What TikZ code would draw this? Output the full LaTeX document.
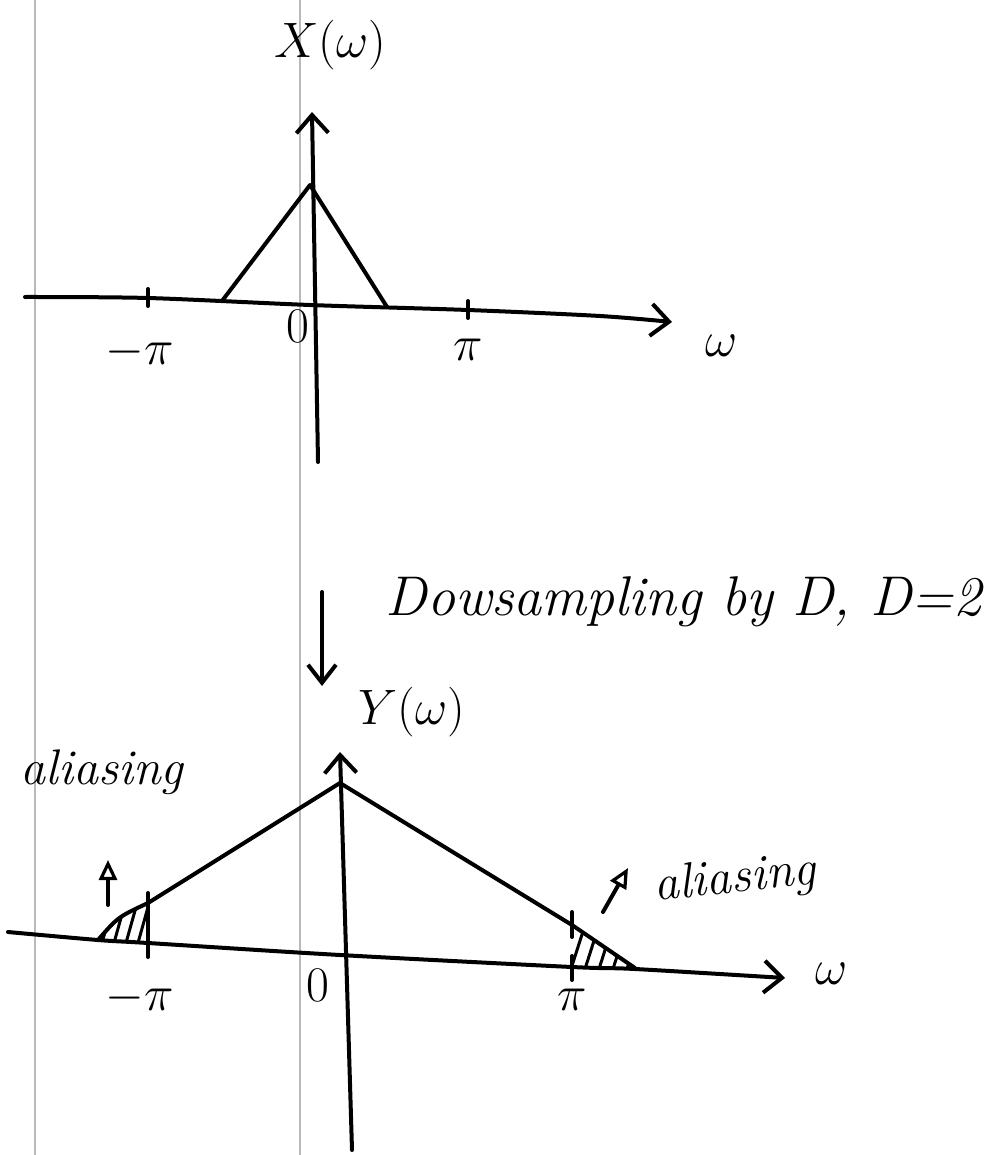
\documentclass[tikz,border=0pt]{standalone}
\usepackage{tikz}
\usetikzlibrary{arrows.meta}

\tikzset{
  pen/.style={line width=2pt,line cap=round,line join=round},
  axisarrow/.style={pen,-{Straight Barb[length=9pt,width=16pt,line width=2pt]}},
  markarrow/.style={pen,-{Triangle[open,length=10pt,width=9pt,line width=1.6pt]}},
  hatchline/.style={line width=1.5pt},
  lbl/.style={inner sep=0pt,font=\fontsize{24}{28}\selectfont},
  biglbl/.style={inner sep=0pt,font=\fontsize{34}{40}\selectfont},
  txt/.style={inner sep=0pt,font=\fontsize{25}{29}\selectfont\itshape},
}

\begin{document}
\begin{tikzpicture}[x=0.5pt,y=-0.5pt]
  \useasboundingbox (0,0) rectangle (993,1155);
  % scan margins
  \draw[gray!55,line width=0.6pt] (35,0)--(35,1155);
  \draw[gray!55,line width=0.6pt] (300,0)--(300,1155);

  % upper spectrum X(w)
  \coordinate (xo) at (318,462);
  \coordinate (xt) at (312,112);
  \draw[axisarrow] plot[smooth] coordinates {(25,297) (148,298) (310,305) (468,310) (600,316) (672,322)};
  \draw[axisarrow] (xo)--(xt);
  \draw[pen] (148,289)--(148,306);
  \draw[pen] (468,301)--(468,318);
  \draw[pen] (222,301)--(310,185)--(387,307);
  \node[biglbl] (xlab) at (330,45) {$X(\omega)$};
  \node[lbl] (xmpi) at (140,352) {$-\pi$};
  \node[lbl] (xzero) at (298,326) {$0$};
  \node[lbl] (xpi) at (468,350) {$\pi$};
  \node[biglbl] (xw) at (722,346) {$\omega$};

  % downsampling step
  \coordinate (da) at (322,592);
  \coordinate (db) at (322,686);
  \draw[pen,-{Straight Barb[length=9pt,width=14pt,line width=2pt]}] (da)--(db);
  \node[anchor=east,inner sep=0pt,font=\fontsize{28}{32}\selectfont\itshape] (step) at (982,602) {Dowsampling by D, D=2};

  % lower spectrum Y(w)
  \coordinate (yo) at (352,1150);
  \coordinate (yt) at (340,752);
  \begin{scope}
    \clip (98,940) .. controls (118,917) .. (148,903) -- (148,943) -- cycle;
    \foreach \x in {100,112,124,136,148}
      \draw[hatchline] (\x,950)--++(14,-50);
  \end{scope}
  \begin{scope}
    \clip (572,925) -- (635,968) -- (572,967) -- cycle;
    \foreach \x in {570,584,598,612,626}
      \draw[hatchline] (\x,972)--++(16,-50);
  \end{scope}
  \draw[axisarrow] plot[smooth] coordinates {(8,932) (98,940) (148,943) (340,955) (572,967) (635,969) (785,978)};
  \draw[axisarrow] (yo)--(yt);
  \draw[pen] (98,940) .. controls (118,917) .. (148,903) -- (340,783) -- (572,925) -- (635,968);
  \draw[pen] (148,893)--(148,957);
  \draw[pen] (572,912)--(572,937);
  \draw[pen] (572,956)--(572,980);
  \node[lbl,font=\fontsize{30}{34}\selectfont] (ylab) at (412,712) {$Y(\omega)$};
  \node[lbl] (ympi) at (140,998) {$-\pi$};
  \node[lbl] (yzero) at (318,985) {$0$};
  \node[lbl] (ypi) at (572,1000) {$\pi$};
  \node[biglbl] (yw) at (832,974) {$\omega$};

  % aliasing marks
  \node[txt] (alia) at (102,772) {aliasing};
  \coordinate (la) at (108,905);
  \coordinate (lb) at (108,860);
  \draw[markarrow] (la)--(lb);
  \node[txt,rotate=6] (alib) at (735,880) {aliasing};
  \coordinate (ra) at (603,912);
  \coordinate (rb) at (628,868);
  \draw[markarrow] (ra)--(rb);
\end{tikzpicture}
\end{document}
